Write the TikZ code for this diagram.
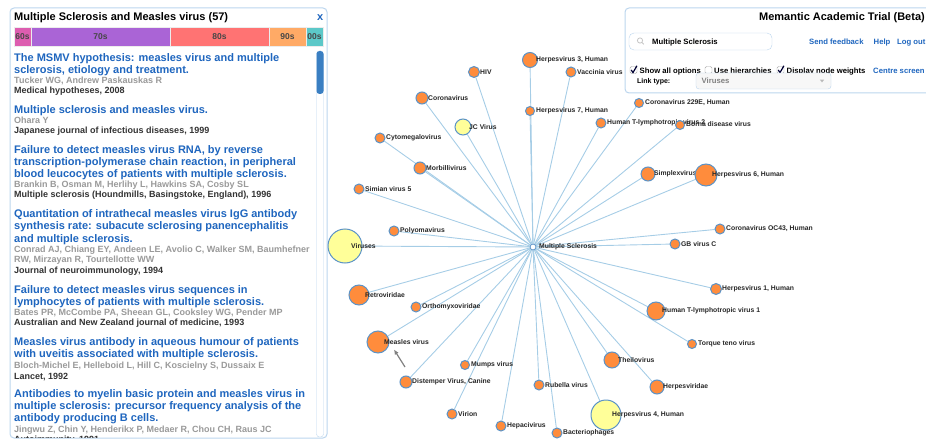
\documentclass[tikz,border=0pt]{standalone}
\usepackage{fontspec}
\setmainfont{Liberation Sans}
\usetikzlibrary{backgrounds,arrows.meta}

\definecolor{panelline}{HTML}{BCD6EE}
\definecolor{linkblue}{HTML}{1F66BF}
\definecolor{authgray}{HTML}{9A9A9A}
\definecolor{jourgray}{HTML}{333333}
\definecolor{nodeorange}{HTML}{FF8C3C}
\definecolor{nodeyellow}{HTML}{FFFF99}
\definecolor{nodeline}{HTML}{5B93C7}
\definecolor{edgeblue}{HTML}{A6CDE6}
\definecolor{dec60}{HTML}{DD5DB0}
\definecolor{dec70}{HTML}{AA64D6}
\definecolor{dec80}{HTML}{FF7373}
\definecolor{dec90}{HTML}{FFAA66}
\definecolor{dec00}{HTML}{5CC8C8}
\definecolor{thumbblue}{HTML}{3A7FC2}

\begin{document}
\begin{tikzpicture}[x=1pt,y=-1pt,>=latex,
  every node/.style={inner sep=0pt},
  panel/.style={draw=panelline,line width=1pt,rounded corners=4pt,fill=white},
  hdr/.style={font=\bfseries\fontsize{11}{13}\selectfont,anchor=base west},
  ttl/.style={font=\bfseries\fontsize{11}{12.3}\selectfont,text=linkblue,align=left,anchor=base west},
  auth/.style={font=\bfseries\fontsize{9}{10}\selectfont,text=authgray,align=left,anchor=base west},
  jour/.style={font=\bfseries\fontsize{9}{10}\selectfont,text=jourgray,anchor=base west},
  decbox/.style={draw=white!85!gray,minimum height=19,font=\bfseries\fontsize{8.5}{10}\selectfont,text=black!72},
  ctl/.style={font=\bfseries\fontsize{7.7}{9}\selectfont,anchor=base west},
  chk/.style={draw=gray!70,fill=white,rounded corners=1.5pt,minimum size=7},
  tick/.style={draw=black!80!blue,line width=1.2pt},
  orn/.style={circle,draw=nodeline,line width=1pt,fill=nodeorange},
  yel/.style={circle,draw=nodeline,line width=1pt,fill=nodeyellow},
  lbl/.style={font=\bfseries\fontsize{6.8}{8}\selectfont,anchor=west,text=black!85},
  edge/.style={draw=edgeblue,line width=0.9pt},
  pointer/.style={-{Latex[length=5pt,width=4.5pt]},draw=gray,line width=1.2pt}]

\useasboundingbox (0,0) rectangle (926,441);

% Left panel: article list
\draw[panel] (10,8) rectangle (327,438);
\node[hdr] (head) at (14,20.7) {Multiple Sclerosis and Measles virus (57)};
\node[hdr,text=linkblue] (close) at (317,20.7) {x};

% decade bar
\node[decbox,fill=dec60,minimum width=17] (d60) at (22.5,36.5) {60s};
\node[decbox,fill=dec70,minimum width=139] (d70) at (100.5,36.5) {70s};
\node[decbox,fill=dec80,minimum width=99] (d80) at (219.5,36.5) {80s};
\node[decbox,fill=dec90,minimum width=37] (d90) at (287.5,36.5) {90s};
\node[decbox,fill=dec00,minimum width=17] (d00) at (314.5,36.5) {00s};

% scroll bar
\draw[draw=panelline,fill=white,rounded corners=3pt] (316.5,51) rectangle (323.5,437);
\fill[thumbblue,rounded corners=3pt] (316.5,51) rectangle (323.5,94);

% articles (multi-line nodes sit on the baseline of their last line)
\node[ttl] (t1) at (14,73.7) {The MSMV hypothesis: measles virus and multiple\\sclerosis, etiology and treatment.};
\node[auth] (a1) at (14,83.3) {Tucker WG, Andrew Paskauskas R};
\node[jour] (j1) at (14,93.3) {Medical hypotheses, 2008};

\node[ttl] (t2) at (14,113.7) {Multiple sclerosis and measles virus.};
\node[auth] (a2) at (14,123.5) {Ohara Y};
\node[jour] (j2) at (14,133.4) {Japanese journal of infectious diseases, 1999};

\node[ttl] (t3) at (14,177.8) {Failure to detect measles virus RNA, by reverse\\transcription-polymerase chain reaction, in peripheral\\blood leucocytes of patients with multiple sclerosis.};
\node[auth] (a3) at (14,187.5) {Brankin B, Osman M, Herlihy L, Hawkins SA, Cosby SL};
\node[jour] (j3) at (14,197.4) {Multiple sclerosis (Houndmills, Basingstoke, England), 1996};

\node[ttl] (t4) at (14,242) {Quantitation of intrathecal measles virus IgG antibody\\synthesis rate: subacute sclerosing panencephalitis\\and multiple sclerosis.};
\node[auth] (a4) at (14,262.7) {Conrad AJ, Chiang EY, Andeen LE, Avolio C, Walker SM, Baumhefner\\RW, Mirzayan R, Tourtellotte WW};
\node[jour] (j4) at (14,273) {Journal of neuroimmunology, 1994};

\node[ttl] (t5) at (14,305.7) {Failure to detect measles virus sequences in\\lymphocytes of patients with multiple sclerosis.};
\node[auth] (a5) at (14,315.7) {Bates PR, McCombe PA, Sheean GL, Cooksley WG, Pender MP};
\node[jour] (j5) at (14,325.7) {Australian and New Zealand journal of medicine, 1993};

\node[ttl] (t6) at (14,357.7) {Measles virus antibody in aqueous humour of patients\\with uveitis associated with multiple sclerosis.};
\node[auth] (a6) at (14,368.3) {Bloch-Michel E, Helleboid L, Hill C, Koscielny S, Dussaix E};
\node[jour] (j6) at (14,379) {Lancet, 1992};

\node[ttl] (t7) at (14,421.9) {Antibodies to myelin basic protein and measles virus in\\multiple sclerosis: precursor frequency analysis of the\\antibody producing B cells.};
\node[auth] (a7) at (14,432.7) {Jingwu Z, Chin Y, Henderikx P, Medaer R, Chou CH, Raus JC};
\begin{scope}
  \clip (10,8) rectangle (316,437.5);
  \node[jour] (j7) at (14,442.5) {Autoimmunity, 1991};
\end{scope}

% Right panel: controls
\draw[panel] (625,8) rectangle (945,93);
\node[hdr,anchor=base east] (app) at (925,20.7) {Memantic Academic Trial (Beta)};
\draw[draw=panelline,fill=white,rounded corners=5pt] (629,33) rectangle (772,50);
\draw[gray!45,line width=0.8pt] (640,40.5) circle (2.6) (641.9,42.4) -- (643.8,44.3);
\node[ctl] (query) at (652,45) {Multiple Sclerosis};
\node[ctl,text=linkblue] (feedback) at (809,45) {Send feedback};
\node[ctl,text=linkblue] (help) at (873.5,45) {Help};
\node[ctl,text=linkblue] (logout) at (897,45) {Log out};

\node[chk] (cb1) at (633.5,70) {};
\draw[tick] ([shift={(-2.3,0)}]cb1.center) -- ([shift={(-0.5,2.6)}]cb1.center) -- ([shift={(3.4,-4.2)}]cb1.center);
\node[ctl] (opt1) at (639.5,73.3) {Show all options};
\node[chk] (cb2) at (708.5,70) {};
\node[ctl] (opt2) at (714,73.3) {Use hierarchies};
\node[chk] (cb3) at (780.5,70) {};
\draw[tick] ([shift={(-2.3,0)}]cb3.center) -- ([shift={(-0.5,2.6)}]cb3.center) -- ([shift={(3.4,-4.2)}]cb3.center);
\node[ctl] (opt3) at (786.5,73.3) {Display node weights};
\node[ctl,text=linkblue] (centre) at (873,73.3) {Centre screen};

\node[ctl,font=\bfseries\fontsize{7}{9}\selectfont] (linktype) at (637,84) {Link type:};
\draw[draw=panelline,fill=gray!6,rounded corners=3pt] (696,73) rectangle (831,89);
\node[ctl,text=gray] (viruses) at (701.5,84) {Viruses};
\fill[gray!55] (819.8,79.6) -- (824.2,79.6) -- (822,82.4) -- cycle;

% Graph: viruses linked to Multiple Sclerosis
\node[circle,draw=nodeline,line width=0.8pt,fill=white,minimum size=6] (ms) at (533,247) {};
\node[lbl] (ms-l) at ([xshift=6pt]ms.center) {Multiple Sclerosis};

\node[yel,minimum size=34] (vir) at (345,246) {};
\node[lbl] at ([xshift=6pt]vir.center) {Viruses};
\node[orn,minimum size=10] (poly) at (394,231) {};
\node[lbl] at ([xshift=6pt]poly.center) {Polyomavirus};
\node[orn,minimum size=20] (retro) at (359,295) {};
\node[lbl] at ([xshift=6pt]retro.center) {Retroviridae};
\node[orn,minimum size=10] (ortho) at (416,307) {};
\node[lbl] at ([xshift=6pt]ortho.center) {Orthomyxoviridae};
\node[orn,minimum size=22] (meas) at (378,342) {};
\node[lbl] at ([xshift=6pt]meas.center) {Measles virus};
\node[orn,minimum size=9] (mumps) at (465,365) {};
\node[lbl] at ([xshift=6pt]mumps.center) {Mumps virus};
\node[orn,minimum size=12] (dist) at (406,382) {};
\node[lbl] at ([xshift=6pt]dist.center) {Distemper Virus, Canine};
\node[orn,minimum size=10] (rub) at (539,385) {};
\node[lbl] at ([xshift=6pt]rub.center) {Rubella virus};
\node[orn,minimum size=10] (virion) at (452,414) {};
\node[lbl] at ([xshift=6pt]virion.center) {Virion};
\node[orn,minimum size=10] (hepaci) at (501,426) {};
\node[lbl] at ([xshift=6pt]hepaci.center) {Hepacivirus};
\node[orn,minimum size=10] (bact) at (557,433) {};
\node[lbl] at ([xshift=6pt]bact.center) {Bacteriophages};
\node[yel,minimum size=30] (hv4) at (606,415) {};
\node[lbl] at ([xshift=6pt]hv4.center) {Herpesvirus 4, Human};
\node[orn,minimum size=16] (theil) at (612,360) {};
\node[lbl] at ([xshift=6pt]theil.center) {Theilovirus};
\node[orn,minimum size=14] (herpes) at (657,387) {};
\node[lbl] at ([xshift=6pt]herpes.center) {Herpesviridae};
\node[orn,minimum size=18] (htlv1) at (656,311) {};
\node[lbl] at ([xshift=6pt]htlv1.center) {Human T-lymphotropic virus 1};
\node[orn,minimum size=9] (ttv) at (692,344) {};
\node[lbl] at ([xshift=6pt]ttv.center) {Torque teno virus};
\node[orn,minimum size=11] (hv1) at (716,289) {};
\node[lbl] at ([xshift=6pt]hv1.center) {Herpesvirus 1, Human};
\node[orn,minimum size=10] (gbc) at (675,244) {};
\node[lbl] at ([xshift=6pt]gbc.center) {GB virus C};
\node[orn,minimum size=10] (oc43) at (720,229) {};
\node[lbl] at ([xshift=6pt]oc43.center) {Coronavirus OC43, Human};
\node[orn,minimum size=14] (simplex) at (648,174) {};
\node[lbl] at ([xshift=6pt]simplex.center) {Simplexvirus};
\node[orn,minimum size=22] (hv6) at (706,175) {};
\node[lbl] at ([xshift=6pt]hv6.center) {Herpesvirus 6, Human};
\node[orn,minimum size=10] (htlv2) at (601,123) {};
\node[lbl] at ([xshift=6pt]htlv2.center) {Human T-lymphotropic virus 2};
\node[orn,minimum size=9] (borna) at (680,125) {};
\node[lbl] at ([shift={(6pt,1pt)}]borna.center) {Borna disease virus};
\node[orn,minimum size=9] (c229) at (639,103) {};
\node[lbl] at ([xshift=6pt]c229.center) {Coronavirus 229E, Human};
\node[orn,minimum size=10] (vacc) at (571,72) {};
\node[lbl] at ([xshift=6pt]vacc.center) {Vaccinia virus};
\node[orn,minimum size=15] (hv3) at (530,60) {};
\node[lbl] at ([xshift=6pt]hv3.center) {Herpesvirus 3, Human};
\node[orn,minimum size=9] (hv7) at (530,111) {};
\node[lbl] at ([xshift=6pt]hv7.center) {Herpesvirus 7, Human};
\node[orn,minimum size=11] (hiv) at (474,72) {};
\node[lbl] at ([xshift=6pt]hiv.center) {HIV};
\node[orn,minimum size=12] (corona) at (422,98) {};
\node[lbl] at ([xshift=6pt]corona.center) {Coronavirus};
\node[yel,minimum size=16] (jc) at (463,127) {};
\node[lbl] at ([xshift=6pt]jc.center) {JC Virus};
\node[orn,minimum size=10] (cmv) at (380,138) {};
\node[lbl] at ([xshift=6pt]cmv.center) {Cytomegalovirus};
\node[orn,minimum size=12] (morb) at (420,168) {};
\node[lbl] at ([xshift=6pt]morb.center) {Morbillivirus};
\node[orn,minimum size=10] (sv5) at (359,189) {};
\node[lbl] at ([xshift=6pt]sv5.center) {Simian virus 5};

\begin{scope}[on background layer]
  \foreach \n in {vir,poly,retro,ortho,meas,mumps,dist,rub,virion,hepaci,bact,hv4,theil,herpes,htlv1,ttv,hv1,gbc,oc43,simplex,hv6,htlv2,borna,c229,vacc,hv3,hv7,hiv,corona,jc,cmv,morb,sv5}
    \draw[edge] (ms) -- (\n);
\end{scope}

% mouse pointer
\coordinate (ptrtail) at (405,367);
\coordinate (ptrtip) at (394,349.5);
\draw[pointer] (ptrtail) -- (ptrtip);

\end{tikzpicture}
\end{document}
